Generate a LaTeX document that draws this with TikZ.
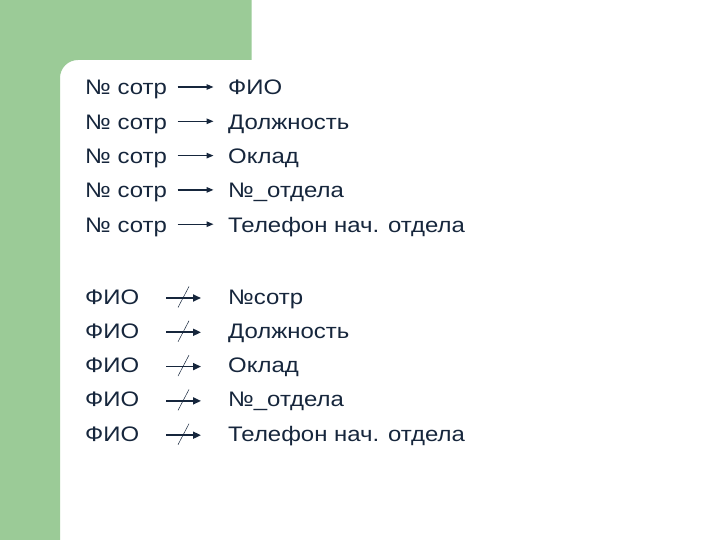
\documentclass[tikz,border=0pt]{standalone}
\usepackage{fontspec}
\setmainfont{Liberation Sans}[FakeStretch=1.14]
\usetikzlibrary{arrows.meta}
\definecolor{leftgreen}{RGB}{155,203,151}
\definecolor{ink}{RGB}{22,38,60}
\tikzset{
  lbl/.style={anchor=base west, inner sep=0pt, text=ink, font=\fontsize{21}{25}\selectfont},
  fd/.style={draw=ink, line width=1.3pt, -{Triangle[length=7pt,width=5.5pt]}},
  nofd/.style={draw=ink, line width=1.7pt, -{Triangle[length=8pt,width=7pt]}},
  slash/.style={draw=ink, line width=0.5pt}
}
\begin{document}
\begin{tikzpicture}[x=1pt,y=-1pt]
\useasboundingbox (0,0) rectangle (720,540);
\fill[white] (0,0) rectangle (720,540);
\fill[leftgreen] (0,0) -- (251.5,0) -- (251.5,60) -- (78,60) .. controls (68,60) and (60,68) .. (60,78) -- (60,540) -- (0,540) -- cycle;
% block 1
\foreach \i/\t in {1/ФИО,2/Должность,3/Оклад,4/№\_отдела,5/Телефон нач. отдела}{
  \pgfmathsetmacro{\yb}{95+34.3*(\i-1)}
  \node[lbl] (a\i) at (85,\yb) {№ сотр};
  \node[lbl] (b\i) at (228,\yb) {\t};
  \coordinate (as\i) at (177.5,\yb-8);
  \coordinate (ae\i) at (213.5,\yb-8);
  \draw[fd] (as\i) -- (ae\i);
}
% block 2
\foreach \i/\t in {1/№сотр,2/Должность,3/Оклад,4/№\_отдела,5/Телефон нач. отдела}{
  \pgfmathsetmacro{\yb}{304+34.3*(\i-1)}
  \node[lbl] (c\i) at (85,\yb) {ФИО};
  \node[lbl] (d\i) at (228,\yb) {\t};
  \coordinate (cs\i) at (166,\yb-6);
  \coordinate (ce\i) at (201,\yb-6);
  \coordinate (s1\i) at (178,\yb+3.5);
  \coordinate (s2\i) at (189,\yb-17.5);
  \draw[nofd] (cs\i) -- (ce\i);
  \draw[slash] (s1\i) -- (s2\i);
}
\end{tikzpicture}
\end{document}
